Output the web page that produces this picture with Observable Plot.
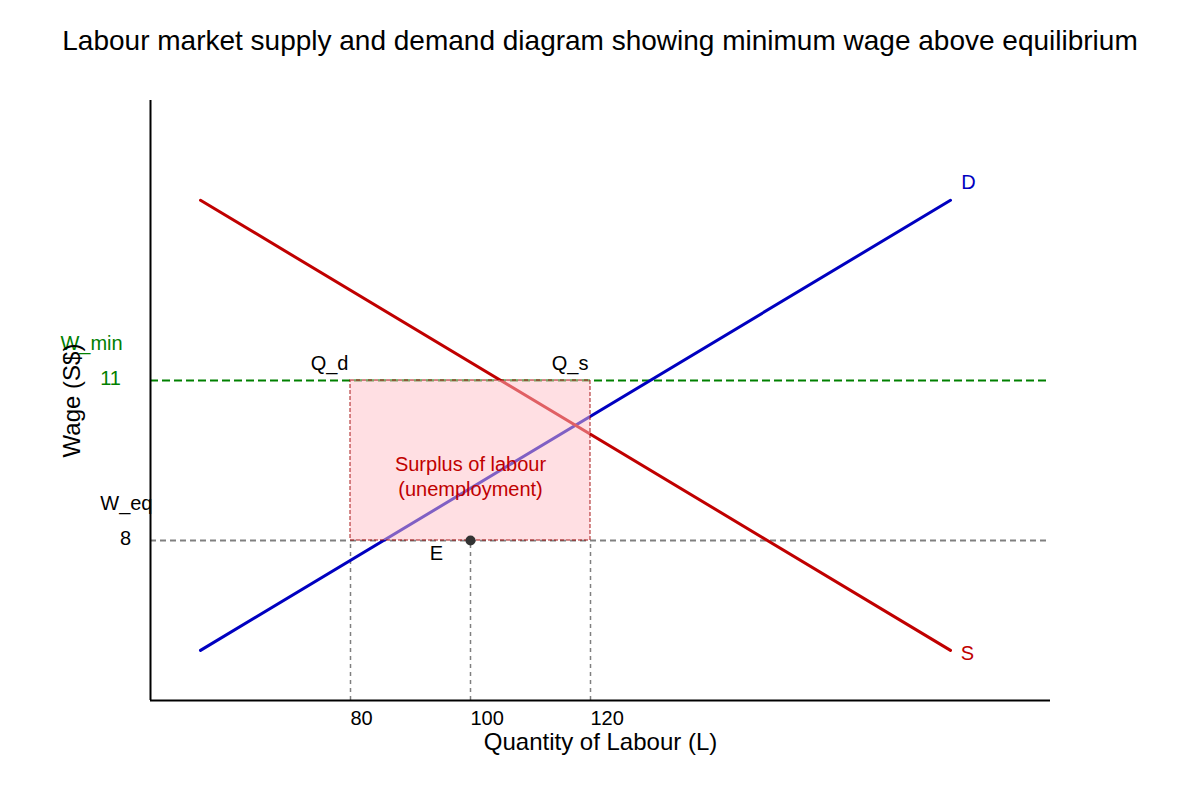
<!DOCTYPE html>
<html>
<head>
<meta charset="utf-8">
<script src="https://cdn.jsdelivr.net/npm/d3@7"></script>
<script src="https://cdn.jsdelivr.net/npm/@observablehq/plot@0.6"></script>
<style>
  html, body { margin: 0; padding: 0; background: white; }
  #title { height: 82px; display: flex; align-items: center; justify-content: center;
           font: 28px "Liberation Sans", Arial, sans-serif; color: black; }
</style>
</head>
<body>
<div id="title">Labour market supply and demand diagram showing minimum wage above equilibrium</div>
<div id="chart"></div>
<script>
// ---- data ----
const qTicks = [80, 100, 120];              // quantity tick labels
const wMinWage = 11;                        // W_min
const wEquilibrium = 8;                     // W_eq
const lineD = [ {q: 55, w: 5.94}, {q: 180, w: 14.38} ];   // blue line labelled D
const lineS = [ {q: 55, w: 14.38}, {q: 180, w: 5.94} ];   // red line labelled S
const surplus = [ {q1: 80, q2: 120, w1: 8, w2: 11} ];
const pointE = [ {q: 100, w: 8} ];
const qLabels = [ {q: 80, label: "Q_d"}, {q: 120, label: "Q_s"} ];

const xDomain = [140 / 3, 590 / 3];
const yDomain = [5, 16.25];
const font = '"Liberation Sans", Arial, sans-serif';

const chart = Plot.plot({
  width: 1200, height: 718,
  marginLeft: 150, marginRight: 150, marginTop: 18, marginBottom: 100,
  x: {domain: xDomain, axis: null},
  y: {domain: yDomain, axis: null},
  style: {fontFamily: font, fontSize: "20px", background: "white", overflow: "visible", color: "black"},
  marks: [
    Plot.ruleY([wMinWage], {stroke: "green", strokeWidth: 2, strokeDasharray: "8,4"}),
    Plot.ruleY([wEquilibrium], {stroke: "gray", strokeWidth: 2, strokeDasharray: "6,4"}),
    Plot.ruleX(qTicks, {x: d => d, y1: yDomain[0], y2: wEquilibrium, stroke: "gray", strokeWidth: 1.5, strokeDasharray: "4,4"}),
    Plot.line(lineD, {x: "q", y: "w", stroke: "#0000c0", strokeWidth: 3}),
    Plot.line(lineS, {x: "q", y: "w", stroke: "#c00000", strokeWidth: 3}),
    Plot.rect(surplus, {x1: "q1", x2: "q2", y1: "w1", y2: "w2", fill: "#ffc0c8", fillOpacity: 0.5,
      stroke: "#a00000", strokeOpacity: 0.6, strokeWidth: 1.5, strokeDasharray: "4,2"}),
    Plot.text(surplus, {x: d => (d.q1 + d.q2) / 2, y: d => (d.w1 + d.w2) / 2,
      text: () => "Surplus of labour\n(unemployment)", fill: "#c00000", fontSize: 20, lineHeight: 1.25, dy: 15}),
    Plot.dot(pointE, {x: "q", y: "w", r: 5, fill: "#333", stroke: "none"}),
    Plot.text(pointE, {x: "q", y: "w", text: () => "E", fontSize: 20, dx: -34, dy: 13}),
    Plot.text(qLabels, {x: "q", y: () => wMinWage, text: "label", textAnchor: "end", fontSize: 20, dx: -2, dy: -17}),
    Plot.text([lineD[1]], {x: "q", y: "w", text: () => "D", fill: "#0000c0", fontSize: 20, dx: 18, dy: -18}),
    Plot.text([lineS[1]], {x: "q", y: "w", text: () => "S", fill: "#c00000", fontSize: 20, dx: 17, dy: 3}),
    // y-axis value labels
    Plot.text([wMinWage], {x: () => xDomain[0], y: d => d, text: d => String(d), fill: "green", fontSize: 20, dx: -40, dy: -2}),
    Plot.text([wMinWage], {x: () => xDomain[0], y: d => d, text: () => "W_min", fill: "green", fontSize: 20, dx: -59, dy: -37}),
    Plot.text([wEquilibrium], {x: () => xDomain[0], y: d => d, text: d => String(d), fontSize: 20, dx: -25, dy: -2}),
    Plot.text([wEquilibrium], {x: () => xDomain[0], y: d => d, text: () => "W_eq", fontSize: 20, textAnchor: "end", dx: 2, dy: -37}),
    // x tick labels
    Plot.text(qTicks, {x: d => d, frameAnchor: "bottom", text: d => String(d), textAnchor: "start", lineAnchor: "middle", fontSize: 20, dy: 18}),
    // axis titles
    Plot.text(["Wage (S$)"], {frameAnchor: "left", text: d => d, rotate: -90, textAnchor: "middle", lineAnchor: "middle", fontSize: 24, dx: -78}),
    Plot.text(["Quantity of Labour (L)"], {frameAnchor: "bottom", text: d => d, lineAnchor: "middle", fontSize: 24, dy: 42}),
    // axis lines
    Plot.ruleX([xDomain[0]], {stroke: "black", strokeWidth: 2}),
    Plot.ruleY([yDomain[0]], {stroke: "black", strokeWidth: 2})
  ]
});
document.getElementById("chart").appendChild(chart);
</script>
</body>
</html>
